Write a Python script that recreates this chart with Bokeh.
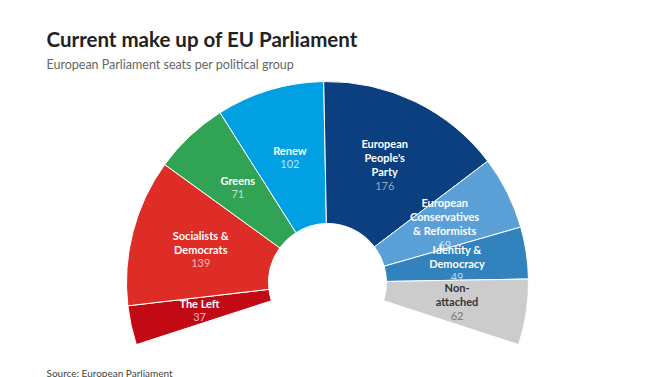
import math
from bokeh.plotting import figure
from bokeh.models import Range1d, ColumnDataSource
from bokeh.core.properties import value
from bokeh.embed import file_html
from bokeh.resources import INLINE

# ---- data ----
groups = ["The Left", "Socialists &\nDemocrats", "Greens", "Renew",
          "European\nPeople's\nParty", "European\nConservatives\n& Reformists",
          "Identity &\nDemocracy", "Non-\nattached"]
seats = [37, 139, 71, 102, 176, 69, 49, 62]
colors = ["#C10A14", "#DE2D26", "#31A354", "#00A0E3",
          "#0B3F80", "#5A9FD6", "#3182BD", "#CCCCCC"]
name_colors = ["white"] * 7 + ["#333333"]
value_colors = ["#F2B8B8", "#F4B9B6", "#BFE3C8", "#B8E4F7",
                "#8FA6C6", "#CFE3F4", "#BCD8EE", "#777777"]

# ---- layout (pixels) ----
W, H = 653, 377
cx, cy = 327, -282
r_in, r_out = 59, 201
start_deg = 198.0
span_deg = 216.0
FONT = "Lato"

p = figure(width=W, height=H, output_backend="svg", toolbar_location=None,
           x_range=Range1d(0, W), y_range=Range1d(-H, 0), min_border=0)
p.axis.visible = False
p.grid.visible = False
p.outline_line_color = None

total = sum(seats)
cum = [0]
for s in seats:
    cum.append(cum[-1] + s)
starts = [math.radians(start_deg - cum[i + 1] / total * span_deg) for i in range(len(seats))]
ends = [math.radians(start_deg - cum[i] / total * span_deg) for i in range(len(seats))]

src = ColumnDataSource(dict(x=[cx] * len(seats), y=[cy] * len(seats),
                            start=starts, end=ends, color=colors))
p.annular_wedge(x="x", y="y", inner_radius=r_in, outer_radius=r_out,
                start_angle="start", end_angle="end", direction="anticlock",
                fill_color="color", line_color="white", line_width=1, source=src)

# ---- slice labels ----
r_lab = (r_in + r_out) / 2 + 1
lh = 14
for i, g in enumerate(groups):
    mid = (starts[i] + ends[i]) / 2
    px = cx + r_lab * math.cos(mid)
    py = cy + r_lab * math.sin(mid)
    lines = g.split("\n")
    m = len(lines) + 1
    for j, ln in enumerate(lines):
        yy = py + (m - 1) / 2 * lh - j * lh
        p.text(x=[px], y=[yy], text=[ln], text_align="center", text_baseline="middle",
               text_font=value(FONT), text_font_style="bold", text_font_size="11px",
               text_color=name_colors[i])
    yy = py + (m - 1) / 2 * lh - (m - 1) * lh
    p.text(x=[px], y=[yy], text=[str(seats[i])], text_align="center", text_baseline="middle",
           text_font=value(FONT), text_font_size="11px", text_color=value_colors[i])

# ---- titles ----
p.text(x=[46], y=[-38], text=["Current make up of EU Parliament"], text_align="left",
       text_baseline="alphabetic", text_font=value(FONT), text_font_style="bold",
       text_font_size="20.5px", text_color="#222222")
p.text(x=[46], y=[-64], text=["European Parliament seats per political group"], text_align="left",
       text_baseline="alphabetic", text_font=value(FONT), text_font_size="12.5px",
       text_color="#666666")
p.text(x=[46], y=[-372], text=["Source: European Parliament"], text_align="left",
       text_baseline="alphabetic", text_font=value(FONT), text_font_size="10px",
       text_color="#444444")

open("out.html", "w").write(file_html(p, INLINE))
